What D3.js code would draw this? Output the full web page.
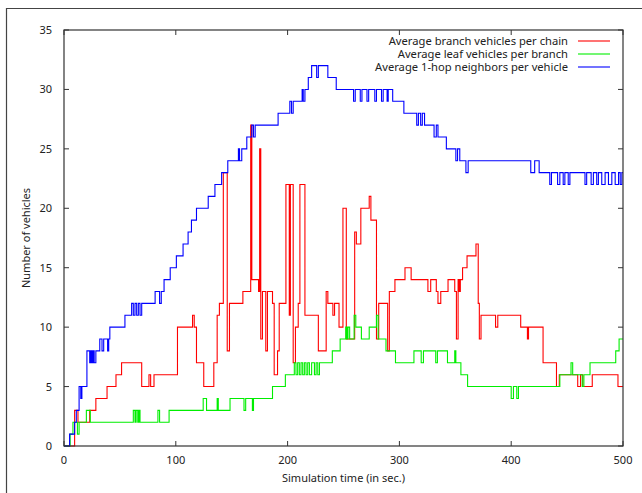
<!DOCTYPE html>
<html>
<head>
<meta charset="utf-8">
<script src="https://cdn.jsdelivr.net/npm/d3@7"></script>
<style>
body { margin: 0; background: #fff; }
text { font-family: "Noto Sans", sans-serif; fill: #222; }
</style>
</head>
<body>
<svg id="main" width="642" height="493"></svg>
<script>
// legend labels
var seriesNames = ["Average branch vehicles per chain", "Average leaf vehicles per branch", "Average 1-hop neighbors per vehicle"];
var seriesColors = ["#ff0000", "#00ee00", "#0000ff"];

var xTicks = [0, 100, 200, 300, 400, 500];
var yTicks = [0, 5, 10, 15, 20, 25, 30, 35];

// [time, value] change points, value holds until next point
var branchSteps = [[0,0],[9.5,3],[12.5,2],[23,3],[28.5,4],[38.5,5],[46.5,6],[51.5,7],[69.5,5],[76,6],[77.5,5],[80.5,6],
  [101.5,10],[115,11],[116.5,10],[118.5,7],[125,5],[134,7],[137,11],[139,12],[142.5,23],[146,8],[148,12],[160,13],
  [167,27],[168,14],[174,13],[175,25],[176,9],[177.5,13],[180.5,8],[182,13],[186.5,12],[188,6],[191,8],[192.5,12],
  [198.5,22],[201.5,11],[202.5,22],[205,7],[207,10],[209.5,12],[211,22],[215.5,11],[227.5,8],[234.5,13],[236,12],
  [240.5,11],[242,12],[246,10],[249.5,20],[252.5,9],[260,18],[261.5,17],[265.5,20],[273,21],[274.5,19],[279.5,9],
  [281.5,12],[289.5,8],[291,13],[296,14],[305,15],[310.5,14],[325.5,13],[328,14],[333,13],[334.5,12],[337,13],
  [343.5,14],[349.5,13],[351,9],[352.5,14],[353.5,13],[354.5,14],[356.5,15],[360.5,16],[368.5,17],[370.5,12],
  [371.5,9],[373,11],[386,10],[388,11],[408.5,10],[414.5,9],[415.5,10],[428.5,7],[440.5,5],[443,6],[459.5,5],
  [462,6],[464,5],[472.5,6],[495.5,5],[500,5]];

var leafSteps = [[0,0],[5.5,1],[8,2],[12,1],[13.5,2],[20,3],[23.5,2],[62,3],[63.5,2],[64.5,3],[66,2],[67,3],[68,2],
  [84,3],[85.5,2],[94,3],[124.5,4],[127.5,3],[137,4],[138,3],[148.5,4],[161,3],[162.5,4],[168.5,3],[169.5,4],
  [186.5,5],[198,6],[206,7],[207.5,6],[209,7],[210.5,6],[212,7],[213.5,6],[215,7],[216.5,6],[218,7],[219.5,6],
  [221.5,7],[224,6],[225.5,7],[227,6],[228.5,7],[240,8],[247,9],[252,10],[253,9],[254,10],[255.5,9],[259.5,11],
  [261,10],[266,9],[273,10],[279.5,11],[281,9],[288,8],[296.5,7],[313,8],[319.5,7],[321.5,8],[332.5,7],[334,8],
  [343,7],[349.5,8],[350.5,7],[355,6],[361,5],[400,4],[402,5],[405,4],[406.5,5],[443.5,6],[453.5,7],[455,6],
  [463.5,5],[465,6],[470.5,7],[493.5,8],[496.5,9],[500,9]];

var hopSteps = [[0,0],[5,1],[9.5,2],[11,3],[13.5,5],[15,4],[16,5],[20.5,8],[23,7],[24,8],[25,7],[26,8],[27,7],
  [28.5,8],[32,9],[34,8],[35.5,9],[39,8],[40,9],[41,10],[54.5,11],[60.5,12],[62,11],[63.5,12],[65,11],[66.5,12],
  [68,11],[69.5,12],[81.5,13],[85.5,12],[87,13],[89.5,14],[95,15],[100.5,16],[106.5,17],[111,18],[114,19],
  [118.5,20],[129,21],[135,22],[141,23],[146.5,24],[156,25],[157,24],[159,25],[163.5,26],[168,27],[169.5,26],
  [171,27],[191.5,28],[202,29],[203.5,28],[205,29],[213,30],[214,29],[215.5,30],[218.5,31],[221.5,32],[226,31],
  [227.5,32],[236,31],[243.5,30],[259,29],[260.5,30],[265,29],[266.5,30],[271,29],[272.5,30],[278,29],[279.5,30],
  [284,29],[285.5,30],[289,29],[290,30],[294,29],[304,28],[315.5,27],[317,28],[319,27],[320.5,28],[322.5,27],
  [331,26],[333,27],[334.5,26],[342,25],[350.5,24],[352,25],[354,24],[359.5,23],[361.5,24],[417.5,23],[421,24],
  [425,23],[434.5,22],[436,23],[441.5,22],[443.5,23],[446.5,22],[448,23],[451,22],[452.5,23],[466,22],[467.5,23],
  [471.5,22],[473.5,23],[476.5,22],[478,23],[481,22],[484,23],[487,22],[490,23],[493,22],[496,23],[497.5,22],
  [499,23],[500,23]];

(function() {
var svg = d3.select("#main");
var pl = 64, pr = 623, pt = 30, pb = 446;

var x = d3.scaleLinear().domain([0, 500]).range([pl, pr]);
var y = d3.scaleLinear().domain([0, 35]).range([pb, pt]);

// outer frame
svg.append("path")
  .attr("d", "M6.5,493V8.5H642")
  .attr("fill", "none").attr("stroke", "#444").attr("stroke-width", 1.2);

// tick marks (inward, mirrored)
var tickLen = 5;
var g = svg.append("g").attr("stroke", "#333").attr("stroke-width", 1);
xTicks.forEach(function(t) {
  g.append("line").attr("x1", x(t)).attr("x2", x(t)).attr("y1", pb).attr("y2", pb - tickLen);
  g.append("line").attr("x1", x(t)).attr("x2", x(t)).attr("y1", pt).attr("y2", pt + tickLen);
});
yTicks.forEach(function(t) {
  g.append("line").attr("x1", pl).attr("x2", pl + tickLen).attr("y1", y(t)).attr("y2", y(t));
  g.append("line").attr("x1", pr).attr("x2", pr - tickLen).attr("y1", y(t)).attr("y2", y(t));
});

// tick labels
svg.selectAll(".xl").data(xTicks).enter().append("text")
  .attr("x", function(d) { return x(d); }).attr("y", pb + 18)
  .attr("text-anchor", "middle").style("font-size", "11px").text(function(d) { return d; });
svg.selectAll(".yl").data(yTicks).enter().append("text")
  .attr("x", pl - 12).attr("y", function(d) { return y(d) + 4; })
  .attr("text-anchor", "end").style("font-size", "11px").text(function(d) { return d; });

// axis titles
svg.append("text").attr("x", (pl + pr) / 2).attr("y", 482)
  .attr("text-anchor", "middle").style("font-size", "11px").text("Simulation time (in sec.)");
svg.append("text").attr("transform", "translate(30," + ((pt + pb) / 2) + ") rotate(-90)")
  .attr("text-anchor", "middle").style("font-size", "11px").text("Number of vehicles");

// series
var line = d3.line()
  .x(function(d) { return x(d[0]); })
  .y(function(d) { return y(d[1]); })
  .curve(d3.curveStepAfter);

[branchSteps, leafSteps, hopSteps].forEach(function(s, i) {
  svg.append("path").datum(s)
    .attr("d", line)
    .attr("fill", "none")
    .attr("stroke", seriesColors[i])
    .attr("stroke-width", 1.1);
});

// plot border
svg.append("rect").attr("x", pl).attr("y", pt)
  .attr("width", pr - pl).attr("height", pb - pt)
  .attr("fill", "none").attr("stroke", "#333").attr("stroke-width", 1.2);

// legend
seriesNames.forEach(function(n, i) {
  var ly = 41 + i * 13;
  svg.append("text").attr("x", 568).attr("y", ly + 4)
    .attr("text-anchor", "end").style("font-size", "11.2px").text(n);
  svg.append("line").attr("x1", 578).attr("x2", 610).attr("y1", ly).attr("y2", ly)
    .attr("stroke", seriesColors[i]).attr("stroke-width", 1.1);
});
})();
</script>
</body>
</html>
